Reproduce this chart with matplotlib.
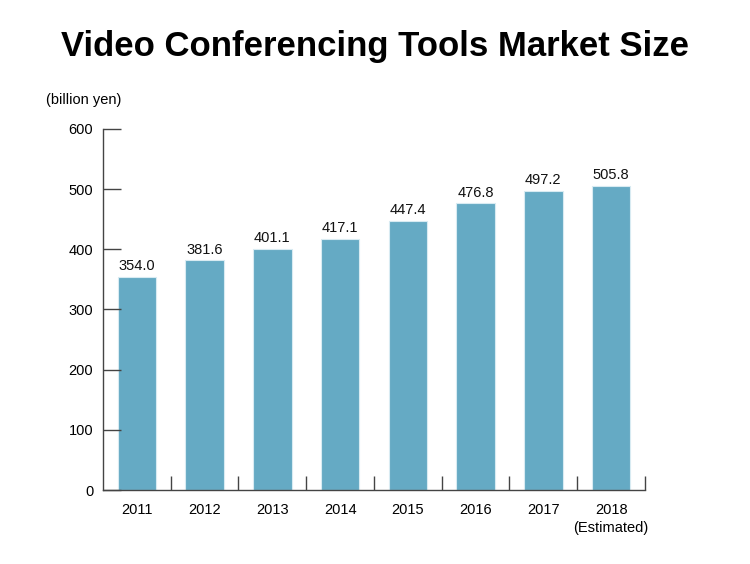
import numpy as np
import matplotlib
matplotlib.use("Agg")
import matplotlib.pyplot as plt

plt.rcParams['font.family'] = ['Liberation Sans', 'DejaVu Sans']

years = ['2011', '2012', '2013', '2014', '2015', '2016', '2017', '2018\n(Estimated)']
market_size = [354.0, 381.6, 401.1, 417.1, 447.4, 476.8, 497.2, 505.8]
y_ticks = [0, 100, 200, 300, 400, 500, 600]

fig = plt.figure(figsize=(7.5, 5.64), dpi=100)
ax = fig.add_axes([0.1373, 0.1312, 0.7227, 0.6401])

x = np.arange(len(years))
ax.bar(x, market_size, width=0.57, color='#65aac4', edgecolor='#d8ebf2', linewidth=0.8)

for xi, v in zip(x, market_size):
    ax.text(xi, v + 6, f'{v:.1f}', ha='center', va='bottom', fontsize=10.5, color='#111111')

ax.set_xlim(-0.5, len(years) - 0.5)
ax.set_ylim(0, 600)
ax.set_yticks(y_ticks)
ax.set_xticks(x)
ax.set_xticklabels(years, fontsize=10.5, linespacing=1.4, va='top')
ax.set_xticks(np.arange(len(years)) + 0.5, minor=True)
ax.tick_params(axis='x', which='major', length=0, pad=9)
ax.tick_params(axis='x', which='minor', direction='in', length=10, width=1, color='#444444')
ax.tick_params(axis='y', direction='in', length=13, width=1, color='#444444', labelsize=10.5, pad=7)

for s in ['top', 'right']:
    ax.spines[s].set_visible(False)
for s in ['left', 'bottom']:
    ax.spines[s].set_color('#444444')
    ax.spines[s].set_linewidth(1)

fig.text(0.5, 0.917, 'Video Conferencing Tools Market Size', ha='center', va='center',
         fontsize=25, fontweight='bold')
fig.text(0.061, 0.823, '(billion yen)', ha='left', va='center', fontsize=10.5)

fig.savefig('out.png', dpi=100)
plt.close(fig)
